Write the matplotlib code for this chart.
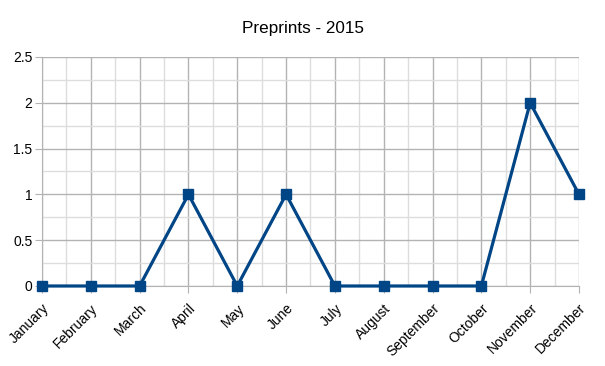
import matplotlib.pyplot as plt
import numpy as np

plt.rcParams['font.family'] = ['Liberation Sans', 'DejaVu Sans']

months = ['January', 'February', 'March', 'April', 'May', 'June', 'July',
          'August', 'September', 'October', 'November', 'December']
preprints = [0, 0, 0, 1, 0, 1, 0, 0, 0, 0, 2, 1]

fig = plt.figure(figsize=(6.05, 3.66), dpi=100)
ax = fig.add_axes([0.0694, 0.2186, 0.8876, 0.6257])

x = np.arange(len(months))
ax.plot(x, preprints, color='#004586', linewidth=2.3, marker='s',
        markersize=7.5, zorder=3, clip_on=False)

ax.set_xlim(0, len(months) - 1)
ax.set_ylim(0, 2.5)
ax.set_xticks(x)
ax.set_xticklabels(months, rotation=45, ha='right', rotation_mode='anchor', fontsize=10)
ax.set_xticks(x[:-1] + 0.5, minor=True)
ax.set_yticks(np.arange(0, 2.51, 0.5))
ax.set_yticklabels(['0', '0.5', '1', '1.5', '2', '2.5'], fontsize=10)
ax.set_yticks(np.arange(0.25, 2.5, 0.5), minor=True)

ax.grid(which='major', color='#b3b3b3', linewidth=1)
ax.grid(which='minor', color='#dddddd', linewidth=1)
ax.set_axisbelow(True)
ax.tick_params(which='major', color='#b3b3b3', length=5, pad=2)
ax.tick_params(axis='x', which='major', pad=6)
ax.tick_params(which='minor', length=0)
for s in ax.spines.values():
    s.set_visible(False)
ax.spines['left'].set_visible(True)
ax.spines['left'].set_color('#b3b3b3')
ax.spines['bottom'].set_visible(True)
ax.spines['bottom'].set_color('#b3b3b3')

fig.suptitle('Preprints - 2015', fontsize=12.3, y=0.942)

plt.savefig('out.png', dpi=100)
